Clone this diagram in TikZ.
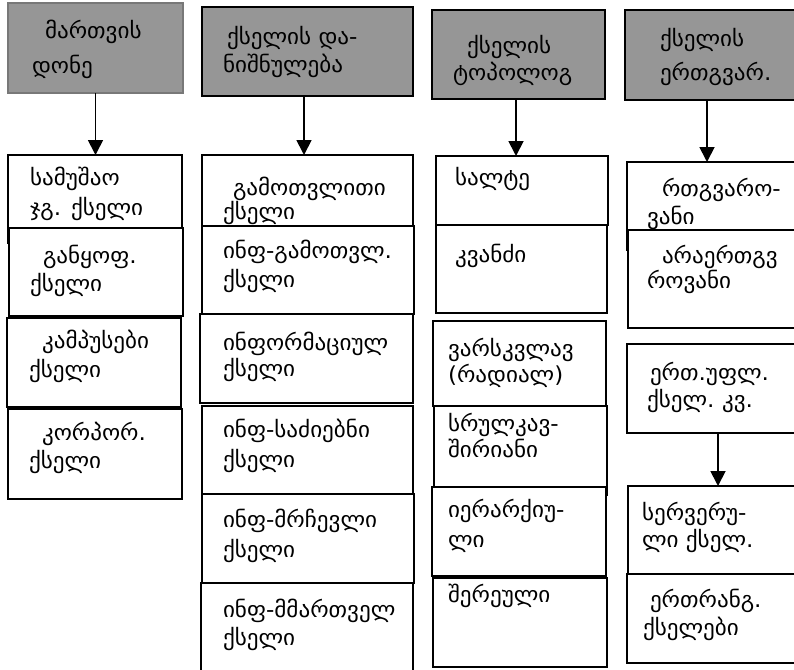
\documentclass[tikz,border=0pt]{standalone}
\usepackage{fontspec}
\setmainfont[FakeStretch=1.05]{DejaVu Sans}
\usetikzlibrary{arrows.meta}
\definecolor{hdrgray}{HTML}{969696}
\tikzset{
  box/.style={draw=black, line width=2pt, fill=white, rectangle, inner sep=0pt, outer sep=0pt},
  hdr/.style={box, fill=hdrgray},
  hdrsoft/.style={hdr, draw=hdrgray!80!black},
  txt/.style={inner sep=0pt, outer sep=0pt, anchor=base west, font=\fontsize{22}{26}\selectfont},
  arr/.style={line width=1.8pt, -{Triangle[width=15pt,length=15pt]}}
}
% \mybox[style]{x1}{y1}{x2}{y2}{name}
\newcommand\mybox[6][box]{%
  \node[#1, minimum width={#4-#2}, minimum height={#5-#3}] (#6) at ({(#2+#4)/2},{(#3+#5)/2}) {};}
\begin{document}
\begin{tikzpicture}[x=1pt,y=-1pt]
\useasboundingbox (0,0) rectangle (794,669);
\clip (0,0) rectangle (794,669);
% ---------- column 1
\mybox[hdrsoft]{8}{3}{183}{93}{g1}
\node[txt] (g1a) at (45,38) {მართვის};
\node[txt] (g1b) at (32,74) {დონე};
\mybox{8}{155}{182}{243}{b1a}
\node[txt] (b1a1) at (30,185) {სამუშაო};
\node[txt] (b1a2) at (30,215) {ჯგ. ქსელი};
\mybox{9}{228}{183}{316}{b1b}
\node[txt] (b1b1) at (43,263) {განყოფ.};
\node[txt] (b1b2) at (30,291) {ქსელი};
\mybox{7}{318}{181}{407}{b1c}
\node[txt] (b1c1) at (42,348) {კამპუსები};
\node[txt] (b1c2) at (29,377) {ქსელი};
\mybox{8}{409}{182}{499}{b1d}
\node[txt] (b1d1) at (42,440) {კორპორ.};
\node[txt] (b1d2) at (29,468) {ქსელი};
\draw[arr] (g1.south) -- (g1.south |- b1a.north);
% ---------- column 2
\mybox[hdr]{202}{7}{413}{96}{g2}
\node[txt] (g2a) at (227,45) {ქსელის და-};
\node[txt] (g2b) at (223,72) {ნიშნულება};
\mybox{202}{155}{413}{240}{b2a}
\node[txt] (b2a1) at (233,195) {გამოთვლითი};
\node[txt] (b2a2) at (223,219) {ქსელი};
\mybox{202}{226}{414}{314}{b2b}
\node[txt] (b2b1) at (223,258) {ინფ-გამოთვლ.};
\node[txt] (b2b2) at (223,287) {ქსელი};
\mybox{200}{314}{413}{403}{b2c}
\node[txt] (b2c1) at (223,350) {ინფორმაციულ};
\node[txt] (b2c2) at (223,376) {ქსელი};
\mybox{202}{406}{413}{494}{b2d}
\node[txt] (b2d1) at (223,437) {ინფ-საძიებნი};
\node[txt] (b2d2) at (223,467) {ქსელი};
\mybox{202}{494}{414}{583}{b2e}
\node[txt] (b2e1) at (223,527) {ინფ-მრჩევლი};
\node[txt] (b2e2) at (223,557) {ქსელი};
\mybox{201}{583}{413}{680}{b2f}
\node[txt] (b2f1) at (223,617) {ინფ-მმართველ};
\node[txt] (b2f2) at (223,645) {ქსელი};
\draw[arr] ([xshift=-3.5pt]g2.south) -- ([xshift=-3.5pt]g2.south |- b2a.north);
% ---------- column 3
\mybox[hdr]{432}{10}{605}{99}{g3}
\node[txt] (g3a) at (467,53) {ქსელის};
\node[txt] (g3b) at (453,80) {ტოპოლოგ};
\mybox{436}{156}{608}{225}{b3a}
\node[txt] (b3a1) at (455,185) {სალტე};
\mybox{436}{225}{607}{313}{b3b}
\node[txt] (b3b1) at (455,262) {კვანძი};
\mybox{433}{321}{606}{406}{b3c}
\node[txt] (b3c1) at (448,356) {ვარსკვლავ};
\node[txt] (b3c2) at (448,382) {(რადიალ)};
\mybox{434}{406}{607}{495}{b3d}
\node[txt] (b3d1) at (448,431) {სრულკავ-};
\node[txt] (b3d2) at (448,457) {შირიანი};
\mybox{432}{487}{606}{576}{b3e}
\node[txt] (b3e1) at (448,517) {იერარქიუ-};
\node[txt] (b3e2) at (448,547) {ლი};
\mybox{433}{578}{607}{667}{b3f}
\node[txt] (b3f1) at (448,602) {შერეული};
\draw[arr] ([xshift=-2.5pt]g3.south) -- ([xshift=-2.5pt]g3.south |- b3a.north);
% ---------- column 4
\mybox[hdr]{625}{10}{810}{100}{g4}
\node[txt] (g4a) at (660,47) {ქსელის};
\node[txt] (g4b) at (660,80) {ერთგვარ.};
\mybox{627}{162}{810}{250}{b4a}
\node[txt] (b4a1) at (662,196) {რთგვარო-};
\node[txt] (b4a2) at (647,224) {ვანი};
\mybox{628}{230}{810}{328}{b4b}
\node[txt] (b4b1) at (662,263) {არაერთგვ};
\node[txt] (b4b2) at (647,288) {როვანი};
\mybox{627}{344}{810}{433}{b4c}
\node[txt] (b4c1) at (650,380) {ერთ.უფლ.};
\node[txt] (b4c2) at (647,407) {ქსელ.};
\node[txt] (b4c3) at (722,407) {კვ.};
\mybox{628}{486}{810}{574}{b4d}
\node[txt] (b4d1) at (642,520) {სერვერუ-};
\node[txt] (b4d2) at (642,547) {ლი ქსელ.};
\mybox{627}{574}{810}{663}{b4e}
\node[txt] (b4e1) at (650,607) {ერთრანგ.};
\node[txt] (b4e2) at (643,635) {ქსელები};
\coordinate (a4top) at ([xshift=82pt]g4.south west);
\draw[arr] (a4top) -- (a4top |- b4a.north);
\coordinate (a4mid) at ([xshift=91pt]b4c.south west);
\draw[arr] (a4mid) -- (a4mid |- b4d.north);
\end{tikzpicture}
\end{document}
